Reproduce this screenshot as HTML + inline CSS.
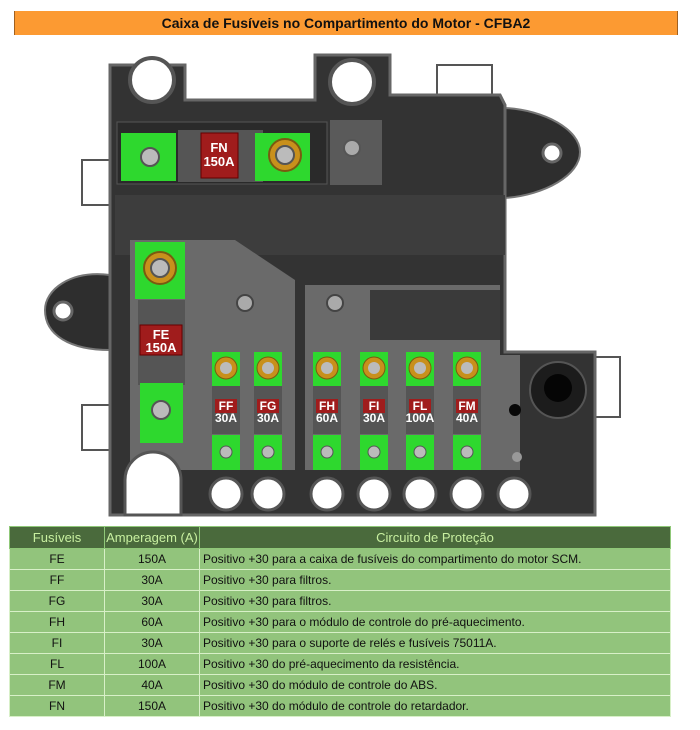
<!DOCTYPE html>
<html><head><meta charset="utf-8"><style>
body{margin:0;width:700px;height:730px;background:#fff;font-family:"Liberation Sans",sans-serif;position:relative;overflow:hidden}
.hdr{position:absolute;left:14px;top:11px;width:662px;height:24px;background:#fc9a32;border-left:1px solid #a06020;border-right:1px solid #a06020;text-align:center;font-weight:bold;font-size:14px;line-height:24px;color:#111}
table{position:absolute;left:9px;top:526px;width:662px;border-collapse:collapse;font-size:12px;color:#111}
th{background:#4a6a3c;color:#c8f0a0;font-weight:normal;height:21px;padding:0;border:1px solid #8fc878;font-size:13px}
td{background:#92c47c;height:20px;padding:0 3px;border:1px solid #d8f0c8}
td.c{text-align:center}
</style></head><body>
<div class="hdr">Caixa de Fusíveis no Compartimento do Motor - CFBA2</div>
<svg width="700" height="520" style="position:absolute;left:0;top:0" font-family="Liberation Sans" font-weight="bold">
<path d="M110,275 C70,270 45,290 45,310 C45,335 70,350 110,350Z" fill="#2e2e2e" stroke="#777" stroke-width="2"/>
<circle cx="63" cy="311" r="9" fill="#fff" stroke="#666" stroke-width="3"/>
<path d="M505,108 C545,110 580,130 580,152 C580,175 545,195 505,198Z" fill="#2e2e2e" stroke="#777" stroke-width="2"/>
<circle cx="552" cy="153" r="9" fill="#fff" stroke="#666" stroke-width="3"/>
<rect x="82" y="160" width="30" height="45" fill="#fff" stroke="#555" stroke-width="2"/>
<rect x="82" y="405" width="30" height="45" fill="#fff" stroke="#555" stroke-width="2"/>
<rect x="590" y="357" width="30" height="60" fill="#fff" stroke="#555" stroke-width="2"/>
<rect x="437" y="65" width="55" height="35" fill="#fff" stroke="#555" stroke-width="2"/>
<path d="M110,65 L185,65 L185,100 L315,100 L315,55 L390,55 L390,95 L500,95 L505,105 L505,352 L595,352 L595,515 L110,515Z" fill="#333" stroke="#666" stroke-width="3"/>
<rect x="115" y="195" width="390" height="60" fill="#3d3d3d"/>
<rect x="117" y="122" width="210" height="62" fill="#2a2a2a" stroke="#555"/>
<rect x="330" y="120" width="52" height="65" fill="#5a5a5a"/>
<circle cx="352" cy="148" r="8" fill="#aaa" stroke="#555" stroke-width="2"/>
<circle cx="152" cy="80" r="22" fill="#fff" stroke="#555" stroke-width="4"/>
<circle cx="352" cy="82" r="22" fill="#fff" stroke="#555" stroke-width="4"/>
<path d="M130,240 L235,240 L295,280 L295,470 L130,470Z" fill="#6a6a6a"/>
<path d="M305,285 L500,285 L500,355 L520,355 L520,470 L305,470Z" fill="#6a6a6a"/>
<rect x="370" y="290" width="130" height="50" fill="#3a3a3a"/>
<circle cx="245" cy="303" r="8" fill="#aaa" stroke="#444" stroke-width="2"/>
<circle cx="335" cy="303" r="8" fill="#aaa" stroke="#444" stroke-width="2"/>
<circle cx="517" cy="457" r="5" fill="#999"/>
<circle cx="558" cy="390" r="28" fill="#1c1c1c" stroke="#555" stroke-width="2"/>
<circle cx="558" cy="388" r="14" fill="#050505"/>
<circle cx="515" cy="410" r="6" fill="#080808"/>
<rect x="121" y="133" width="55" height="48" fill="#2ed82e"/>
<circle cx="150" cy="157" r="9" fill="#bbb" stroke="#555" stroke-width="2"/>
<rect x="178" y="130" width="85" height="52" fill="#555"/>
<rect x="201" y="133" width="37" height="45" fill="#a01c1c" stroke="#600" />
<text x="219" y="152" fill="#fff" font-size="13" text-anchor="middle">FN</text>
<text x="219" y="166" fill="#fff" font-size="13" text-anchor="middle">150A</text>
<rect x="255" y="133" width="55" height="48" fill="#2ed82e"/>
<circle cx="285" cy="155" r="16" fill="#c8901c" stroke="#7a5a10" stroke-width="2"/>
<circle cx="285" cy="155" r="9" fill="#bbb" stroke="#555" stroke-width="2"/>
<rect x="135" y="242" width="50" height="57" fill="#2ed82e"/>
<circle cx="160" cy="268" r="16" fill="#c8901c" stroke="#7a5a10" stroke-width="2"/>
<circle cx="160" cy="268" r="9" fill="#bbb" stroke="#555" stroke-width="2"/>
<rect x="138" y="300" width="47" height="85" fill="#555"/>
<rect x="140" y="325" width="42" height="30" fill="#a01c1c" stroke="#600"/>
<text x="161" y="339" fill="#fff" font-size="13" text-anchor="middle">FE</text>
<text x="161" y="352" fill="#fff" font-size="13" text-anchor="middle">150A</text>
<rect x="140" y="383" width="43" height="60" fill="#2ed82e"/>
<circle cx="161" cy="410" r="9" fill="#bbb" stroke="#555" stroke-width="2"/>
<path d="M125,515 L125,480 A28,28 0 0 1 181,480 L181,515Z" fill="#fff" stroke="#555" stroke-width="3"/>
<g font-size="12" text-anchor="middle" fill="#fff">
<g transform="translate(226,0)">
<rect x="-14" y="352" width="28" height="34" fill="#2ed82e"/><circle cx="0" cy="368" r="11" fill="#c8901c" stroke="#7a5a10"/><circle cx="0" cy="368" r="6" fill="#bbb"/>
<rect x="-14" y="386" width="28" height="48" fill="#555"/><rect x="-11" y="399" width="22" height="14" fill="#a01c1c"/>
<text y="410">FF</text><text y="422">30A</text>
<rect x="-14" y="435" width="28" height="35" fill="#2ed82e"/><circle cx="0" cy="452" r="6" fill="#bbb" stroke="#555"/>
</g>
<g transform="translate(268,0)">
<rect x="-14" y="352" width="28" height="34" fill="#2ed82e"/><circle cx="0" cy="368" r="11" fill="#c8901c" stroke="#7a5a10"/><circle cx="0" cy="368" r="6" fill="#bbb"/>
<rect x="-14" y="386" width="28" height="48" fill="#555"/><rect x="-11" y="399" width="22" height="14" fill="#a01c1c"/>
<text y="410">FG</text><text y="422">30A</text>
<rect x="-14" y="435" width="28" height="35" fill="#2ed82e"/><circle cx="0" cy="452" r="6" fill="#bbb" stroke="#555"/>
</g>
<g transform="translate(327,0)">
<rect x="-14" y="352" width="28" height="34" fill="#2ed82e"/><circle cx="0" cy="368" r="11" fill="#c8901c" stroke="#7a5a10"/><circle cx="0" cy="368" r="6" fill="#bbb"/>
<rect x="-14" y="386" width="28" height="48" fill="#555"/><rect x="-11" y="399" width="22" height="14" fill="#a01c1c"/>
<text y="410">FH</text><text y="422">60A</text>
<rect x="-14" y="435" width="28" height="35" fill="#2ed82e"/><circle cx="0" cy="452" r="6" fill="#bbb" stroke="#555"/>
</g>
<g transform="translate(374,0)">
<rect x="-14" y="352" width="28" height="34" fill="#2ed82e"/><circle cx="0" cy="368" r="11" fill="#c8901c" stroke="#7a5a10"/><circle cx="0" cy="368" r="6" fill="#bbb"/>
<rect x="-14" y="386" width="28" height="48" fill="#555"/><rect x="-11" y="399" width="22" height="14" fill="#a01c1c"/>
<text y="410">FI</text><text y="422">30A</text>
<rect x="-14" y="435" width="28" height="35" fill="#2ed82e"/><circle cx="0" cy="452" r="6" fill="#bbb" stroke="#555"/>
</g>
<g transform="translate(420,0)">
<rect x="-14" y="352" width="28" height="34" fill="#2ed82e"/><circle cx="0" cy="368" r="11" fill="#c8901c" stroke="#7a5a10"/><circle cx="0" cy="368" r="6" fill="#bbb"/>
<rect x="-14" y="386" width="28" height="48" fill="#555"/><rect x="-11" y="399" width="22" height="14" fill="#a01c1c"/>
<text y="410">FL</text><text y="422">100A</text>
<rect x="-14" y="435" width="28" height="35" fill="#2ed82e"/><circle cx="0" cy="452" r="6" fill="#bbb" stroke="#555"/>
</g>
<g transform="translate(467,0)">
<rect x="-14" y="352" width="28" height="34" fill="#2ed82e"/><circle cx="0" cy="368" r="11" fill="#c8901c" stroke="#7a5a10"/><circle cx="0" cy="368" r="6" fill="#bbb"/>
<rect x="-14" y="386" width="28" height="48" fill="#555"/><rect x="-11" y="399" width="22" height="14" fill="#a01c1c"/>
<text y="410">FM</text><text y="422">40A</text>
<rect x="-14" y="435" width="28" height="35" fill="#2ed82e"/><circle cx="0" cy="452" r="6" fill="#bbb" stroke="#555"/>
</g>
</g>
<g fill="#fff" stroke="#555" stroke-width="3">
<circle cx="226" cy="494" r="16"/><circle cx="268" cy="494" r="16"/><circle cx="327" cy="494" r="16"/><circle cx="374" cy="494" r="16"/><circle cx="420" cy="494" r="16"/><circle cx="467" cy="494" r="16"/><circle cx="514" cy="494" r="16"/>
</g>
</svg>
<table>
<tr><th style="width:94px">Fusíveis</th><th style="width:94px">Amperagem (A)</th><th>Circuito de Proteção</th></tr>
<tr><td class="c">FE</td><td class="c">150A</td><td>Positivo +30 para a caixa de fusíveis do compartimento do motor SCM.</td></tr>
<tr><td class="c">FF</td><td class="c">30A</td><td>Positivo +30 para filtros.</td></tr>
<tr><td class="c">FG</td><td class="c">30A</td><td>Positivo +30 para filtros.</td></tr>
<tr><td class="c">FH</td><td class="c">60A</td><td>Positivo +30 para o módulo de controle do pré-aquecimento.</td></tr>
<tr><td class="c">FI</td><td class="c">30A</td><td>Positivo +30 para o suporte de relés e fusíveis 75011A.</td></tr>
<tr><td class="c">FL</td><td class="c">100A</td><td>Positivo +30 do pré-aquecimento da resistência.</td></tr>
<tr><td class="c">FM</td><td class="c">40A</td><td>Positivo +30 do módulo de controle do ABS.</td></tr>
<tr><td class="c">FN</td><td class="c">150A</td><td>Positivo +30 do módulo de controle do retardador.</td></tr>
</table>
</body></html>
